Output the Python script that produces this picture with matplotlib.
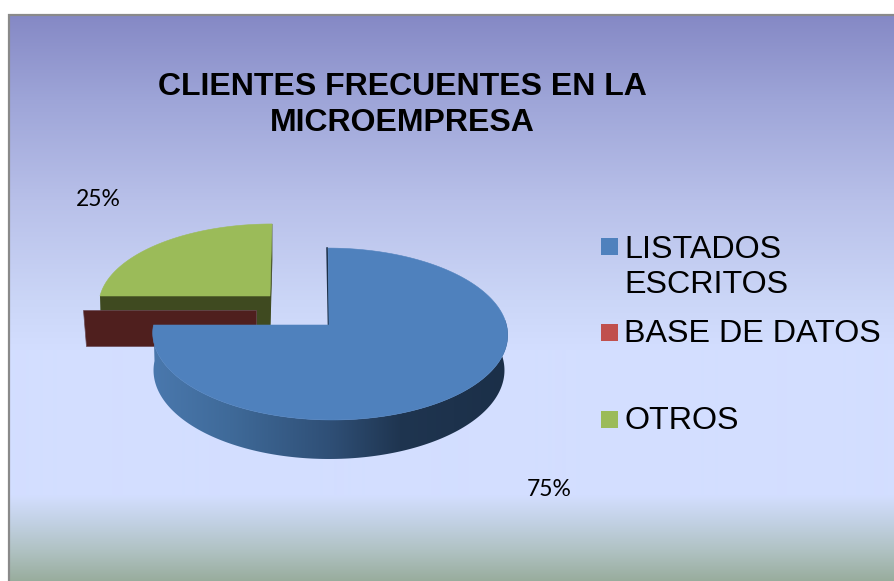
import numpy as np
import matplotlib
matplotlib.use("Agg")
import matplotlib.pyplot as plt
from matplotlib.colors import to_rgb
from matplotlib.patches import Polygon, Rectangle

# ---- data ----
title = "CLIENTES FRECUENTES EN LA\nMICROEMPRESA"
categories = ["LISTADOS\nESCRITOS", "BASE DE DATOS", "OTROS"]
values = [75, 0, 25]
pct_labels = ["75%", "25%"]
colors = ["#4f81bd", "#c0504d", "#9bbb59"]

W, H = 895, 581
fig = plt.figure(figsize=(W / 100, H / 100), dpi=100, facecolor="white")
ax = fig.add_axes([0, 0, 1, 1])
ax.axis("off")

# ---- background gradient ----
stops_y = [15, 100, 200, 300, 350, 495, 520, 550, 581]
stops_c = ["#8589c5", "#9ea5d8", "#b8c0e9", "#cbd6f7", "#d3deff", "#d3deff", "#c3d2e6", "#b0c2c3", "#98ac9c"]
ys = np.arange(15, 581)
rgb = np.array([to_rgb(c) for c in stops_c])
grad = np.stack([np.interp(ys, stops_y, rgb[:, i]) for i in range(3)], axis=1)[:, None, :]
ax.imshow(grad, extent=(9, W, 581, 15), aspect="auto", interpolation="bilinear", zorder=0)
ax.plot([9, 9, W], [H, 15, 15], color="#8a8a8a", lw=1.6, zorder=1, solid_joinstyle="miter")


def project(t, cx, cy, a, b, k, shear):
    """Perspective projection of a pie rim angle (radians, counter-clockwise from +x)."""
    s, c = np.sin(t), np.cos(t)
    w = 1 + k * s
    dy = b * s / w
    return cx + a * c / w + shear * dy, cy - dy


# slice angles, clockwise from 12 o'clock
bounds = 90 - 3.6 * np.concatenate([[0], np.cumsum(values)])
ang = [np.radians(np.linspace(bounds[i], bounds[i + 1], 240)) for i in range(3)]

K = 0.105
# --- OTROS (green) ---
g = dict(cx=270, cy=296, a=170, b=79.6, k=K, shear=0.028)
gx, gy = project(ang[2], **g)
depth = 36
ax.add_patch(Polygon([(g["cx"], g["cy"]), (gx[0], gy[0]), (gx[0] + 1, gy[0] + depth), (g["cx"], g["cy"] + depth)],
                     fc="#3f4a20", ec="none", zorder=2))
ax.add_patch(Polygon([(g["cx"], g["cy"]), (gx[-1], gy[-1]), (gx[-1], gy[-1] + depth), (g["cx"], g["cy"] + depth)],
                     fc="#3f4a20", ec="#3f4a20", lw=0.5, zorder=2))
ax.add_patch(Polygon(np.r_[[[g["cx"], g["cy"]]], np.c_[gx, gy]], fc=colors[2], ec=colors[2], lw=0.4, zorder=3))

# --- BASE DE DATOS (red, empty slice: only the cut wall shows) ---
r = dict(cx=256, cy=310, a=173, b=80, k=K, shear=0.0)
rx, ry = project(ang[1][:1], **r)
ax.add_patch(Polygon([(rx[0], ry[0]), (r["cx"], r["cy"]), (r["cx"], r["cy"] + 36), (rx[0] + 3, ry[0] + 36)],
                     fc="#4f1f1e", ec="#6a4a55", lw=0.5, zorder=4))

# --- LISTADOS ESCRITOS (blue) ---
apex = (329, 325)
b_top = dict(cx=330, cy=325, a=176.5, b=85, k=K, shear=-0.025)
b_bot = dict(cx=329, cy=361, a=174.5, b=87.7, k=K, shear=0.0)
tx, ty = project(ang[0], **b_top)
bx, by = project(ang[0], **b_bot)
front = np.where(np.sin(ang[0]) < 0.12)[0]
wall_poly = Polygon(np.r_[np.c_[tx[front], ty[front]], np.c_[bx[front], by[front]][::-1]],
                    fc="none", ec="none", transform=ax.transData)
ax.add_patch(wall_poly)
wall_x = [153, 230, 330, 400, 507]
wall_c = np.array([to_rgb(c) for c in ["#4a78ad", "#3f6a99", "#2f4f76", "#1f3550", "#1b2f48"]])
xs = np.arange(150, 511)
wall_grad = np.stack([np.interp(xs, wall_x, wall_c[:, i]) for i in range(3)], axis=1)[None, :, :]
wall_im = ax.imshow(wall_grad, extent=(150, 511, 470, 320), aspect="auto", interpolation="bilinear", zorder=5)
wall_im.set_clip_path(wall_poly)
ax.plot([tx[0] - 1, apex[0] - 0.5], [ty[0], apex[1]], color="#1c3048", lw=1.2, zorder=5)
ax.add_patch(Polygon(np.r_[[apex], np.c_[tx, ty]], fc=colors[0], ec=colors[0], lw=0.4, zorder=6))

# ---- texts ----
ax.text(402, 105, title, ha="center", va="center", fontsize=23, fontweight="bold",
        family="Liberation Sans", color="black", linespacing=1.25, zorder=8)
ax.text(549, 489, pct_labels[0], ha="center", va="center", fontsize=16.5, family="Lato", zorder=8)
ax.text(98, 199, pct_labels[1], ha="center", va="center", fontsize=16.5, family="Lato", zorder=8)

# ---- legend ----
leg_square_y = [238, 324, 411]
leg_text_y = [267.5, 334, 421]
for c, lab, sy, ly in zip(colors, categories, leg_square_y, leg_text_y):
    ax.add_patch(Rectangle((601, sy), 17, 17, fc=c, ec="none", zorder=8))
    ax.text(624.5, ly, lab, ha="left", va="center", fontsize=23.2, family="Liberation Sans",
            linespacing=1.235, zorder=8)

ax.set_xlim(0, W)
ax.set_ylim(H, 0)
fig.savefig("out.png", dpi=100, facecolor="white")
